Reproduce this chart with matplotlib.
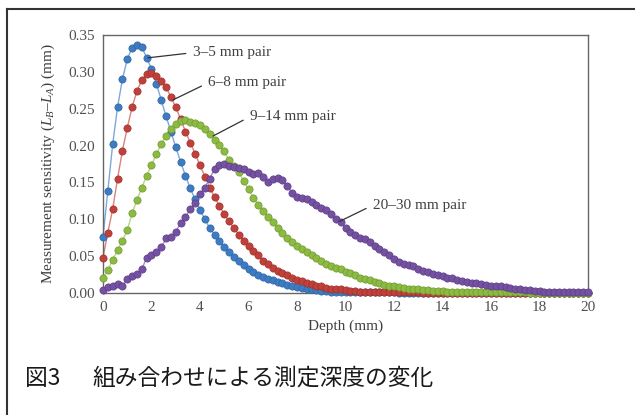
import numpy as np
import matplotlib
matplotlib.use('Agg')
import matplotlib.pyplot as plt
from matplotlib.lines import Line2D

# depth grid (mm), one sample every 0.2 mm
depth = np.round(np.arange(101) * 0.2, 1)

pair_3_5 = [0.076, 0.139, 0.202, 0.252, 0.290, 0.317, 0.333, 0.337, 0.334, 0.319,
            0.304, 0.284, 0.262, 0.240, 0.219, 0.198, 0.178, 0.159, 0.142, 0.127,
            0.113, 0.100, 0.088, 0.079, 0.071, 0.063, 0.056, 0.049, 0.043, 0.038,
            0.033, 0.029, 0.025, 0.022, 0.019, 0.017, 0.015, 0.013, 0.011, 0.009,
            0.008, 0.007, 0.006, 0.005, 0.004, 0.003, 0.003, 0.002, 0.002, 0.002,
            0.001, 0.001, 0.001, 0.001, 0.001, 0.001, 0.001, 0.001, 0.001, 0.001,
            0.001, 0.000, 0.000, 0.000, 0.000, 0.000, 0.000, 0.000, 0.000, 0.000,
            0.000, 0.000, 0.000, 0.000, 0.000, 0.000, 0.000, 0.000, 0.000, 0.000,
            0.000, 0.000, 0.000, 0.000, 0.000, 0.000, 0.000, 0.000, 0.000, 0.000,
            0.000, 0.000, 0.000, 0.000, 0.000, 0.000, 0.000, 0.000, 0.000, 0.000,
            0.000]

pair_6_8 = [0.048, 0.082, 0.114, 0.155, 0.193, 0.224, 0.252, 0.274, 0.289, 0.297,
            0.299, 0.295, 0.288, 0.279, 0.266, 0.252, 0.236, 0.219, 0.204, 0.189,
            0.173, 0.158, 0.143, 0.130, 0.118, 0.107, 0.097, 0.088, 0.079, 0.071,
            0.064, 0.057, 0.051, 0.044, 0.039, 0.034, 0.030, 0.027, 0.024, 0.021,
            0.018, 0.016, 0.014, 0.012, 0.010, 0.009, 0.007, 0.006, 0.005, 0.005,
            0.004, 0.003, 0.003, 0.002, 0.002, 0.002, 0.001, 0.001, 0.001, 0.001,
            0.001, 0.001, 0.001, 0.001, 0.001, 0.001, 0.000, 0.000, 0.000, 0.000,
            0.000, 0.000, 0.000, 0.000, 0.000, 0.000, 0.000, 0.000, 0.000, 0.000,
            0.000, 0.000, 0.000, 0.000, 0.000, 0.000, 0.000, 0.000, 0.000, 0.000,
            0.000, 0.000, 0.000, 0.000, 0.000, 0.000, 0.000, 0.000, 0.000, 0.000,
            0.000]

pair_9_14 = [0.020, 0.031, 0.045, 0.058, 0.071, 0.085, 0.108, 0.126, 0.143, 0.159,
             0.174, 0.188, 0.202, 0.213, 0.222, 0.229, 0.233, 0.235, 0.232, 0.230,
             0.228, 0.222, 0.216, 0.208, 0.201, 0.192, 0.180, 0.172, 0.164, 0.152,
             0.141, 0.129, 0.120, 0.111, 0.103, 0.096, 0.088, 0.081, 0.075, 0.069,
             0.064, 0.059, 0.055, 0.051, 0.047, 0.044, 0.040, 0.037, 0.034, 0.032,
             0.029, 0.027, 0.024, 0.021, 0.019, 0.017, 0.015, 0.013, 0.011, 0.010,
             0.009, 0.008, 0.007, 0.006, 0.005, 0.005, 0.004, 0.004, 0.003, 0.003,
             0.003, 0.002, 0.002, 0.002, 0.002, 0.002, 0.001, 0.001, 0.001, 0.001,
             0.001, 0.001, 0.001, 0.001, 0.001, 0.001, 0.001, 0.001, 0.000, 0.000,
             0.000, 0.000, 0.000, 0.000, 0.000, 0.000, 0.000, 0.000, 0.000, 0.000,
             0.000]

pair_20_30 = [0.004, 0.008, 0.010, 0.012, 0.010, 0.019, 0.023, 0.026, 0.032, 0.048,
              0.052, 0.056, 0.062, 0.074, 0.076, 0.083, 0.095, 0.103, 0.114, 0.122,
              0.134, 0.143, 0.155, 0.168, 0.173, 0.175, 0.172, 0.171, 0.170, 0.168,
              0.164, 0.162, 0.163, 0.158, 0.151, 0.154, 0.156, 0.153, 0.145, 0.136,
              0.130, 0.129, 0.127, 0.124, 0.119, 0.115, 0.112, 0.107, 0.101, 0.096,
              0.088, 0.083, 0.078, 0.075, 0.073, 0.069, 0.064, 0.060, 0.055, 0.051,
              0.046, 0.042, 0.040, 0.038, 0.036, 0.033, 0.030, 0.028, 0.026, 0.025,
              0.023, 0.021, 0.020, 0.018, 0.016, 0.015, 0.014, 0.013, 0.012, 0.011,
              0.010, 0.009, 0.009, 0.008, 0.007, 0.006, 0.005, 0.004, 0.004, 0.003,
              0.003, 0.002, 0.002, 0.001, 0.001, 0.001, 0.001, 0.001, 0.001, 0.001,
              0.001]

series = [pair_3_5, pair_6_8, pair_9_14, pair_20_30]
labels = ['3–5 mm pair', '6–8 mm pair', '9–14 mm pair', '20–30 mm pair']
colors = ['#3d7cc2', '#c0413b', '#8cba42', '#7551a2']
edges = ['#2f64a3', '#9e302b', '#6f9a2e', '#5d3d87']
line_colors = ['#7ea8d8', '#d9837f', '#b4d585', '#a68cc6']

# annotation: point on the curve, text position
ann_xy = [(1.85, 0.319), (2.89, 0.262), (4.54, 0.213), (9.75, 0.097)]
ann_text = [(3.7, 0.326), (4.33, 0.285), (6.05, 0.239), (11.12, 0.119)]

plt.rcParams['font.family'] = ['Liberation Serif', 'DejaVu Serif']
plt.rcParams['mathtext.fontset'] = 'custom'
plt.rcParams['mathtext.rm'] = 'Liberation Serif'
plt.rcParams['mathtext.it'] = 'Liberation Serif:italic'

fig = plt.figure(figsize=(6.35, 4.15), dpi=100)
ax = fig.add_axes([0.1622, 0.294, 0.7638, 0.6217])

for y, c, e, lc in zip(series, colors, edges, line_colors):
    ax.plot(depth, y, '-', color=lc, lw=1.0, clip_on=False, zorder=2)
    ax.plot(depth, y, 'o', color=c, mec=e, mew=0.5, ms=5.2, clip_on=False, zorder=3)

for lab, xy, xt in zip(labels, ann_xy, ann_text):
    ax.annotate(lab, xy=xy, xytext=xt, ha='left', va='center', fontsize=11, color='#404040',
                arrowprops=dict(arrowstyle='-', color='#333333', lw=0.9,
                                shrinkA=3, shrinkB=0, relpos=(0, 0.5)))

ax.set_xlim(0, 20)
ax.set_ylim(0, 0.35)
ax.set_xticks(np.arange(0, 21, 2))
ax.set_yticks(np.arange(0, 0.351, 0.05))
ax.set_yticklabels(['%.2f' % v for v in np.arange(0, 0.351, 0.05)])
ax.tick_params(length=0, labelsize=11, colors='#505050', pad=6)
for s in ax.spines.values():
    s.set_color('#666666')
    s.set_linewidth(1.0)

ax.set_xlabel('Depth (mm)', fontsize=11, color='#404040', labelpad=4)
ax.set_ylabel(r'Measurement sensitivity ($L_B$–$L_A$) (mm)', fontsize=11, color='#404040', labelpad=8)

# caption
cap_font = ['Noto Sans CJK JP', 'DejaVu Sans']
fig.text(0.039, 0.089, '図3', fontsize=16.4, family=cap_font, color='#1a1a1a',
         va='center', ha='left')
fig.text(0.145, 0.089, '組み合わせによる測定深度の変化', fontsize=16.4, family=cap_font,
         color='#1a1a1a', va='center', ha='left')

# outer frame (top and left edges)
fig.add_artist(Line2D([0.011, 1.0], [0.978, 0.978], color='#333333', lw=1.5))
fig.add_artist(Line2D([0.011, 0.011], [0.0, 0.978], color='#333333', lw=1.5))

fig.savefig('out.png', dpi=100)
